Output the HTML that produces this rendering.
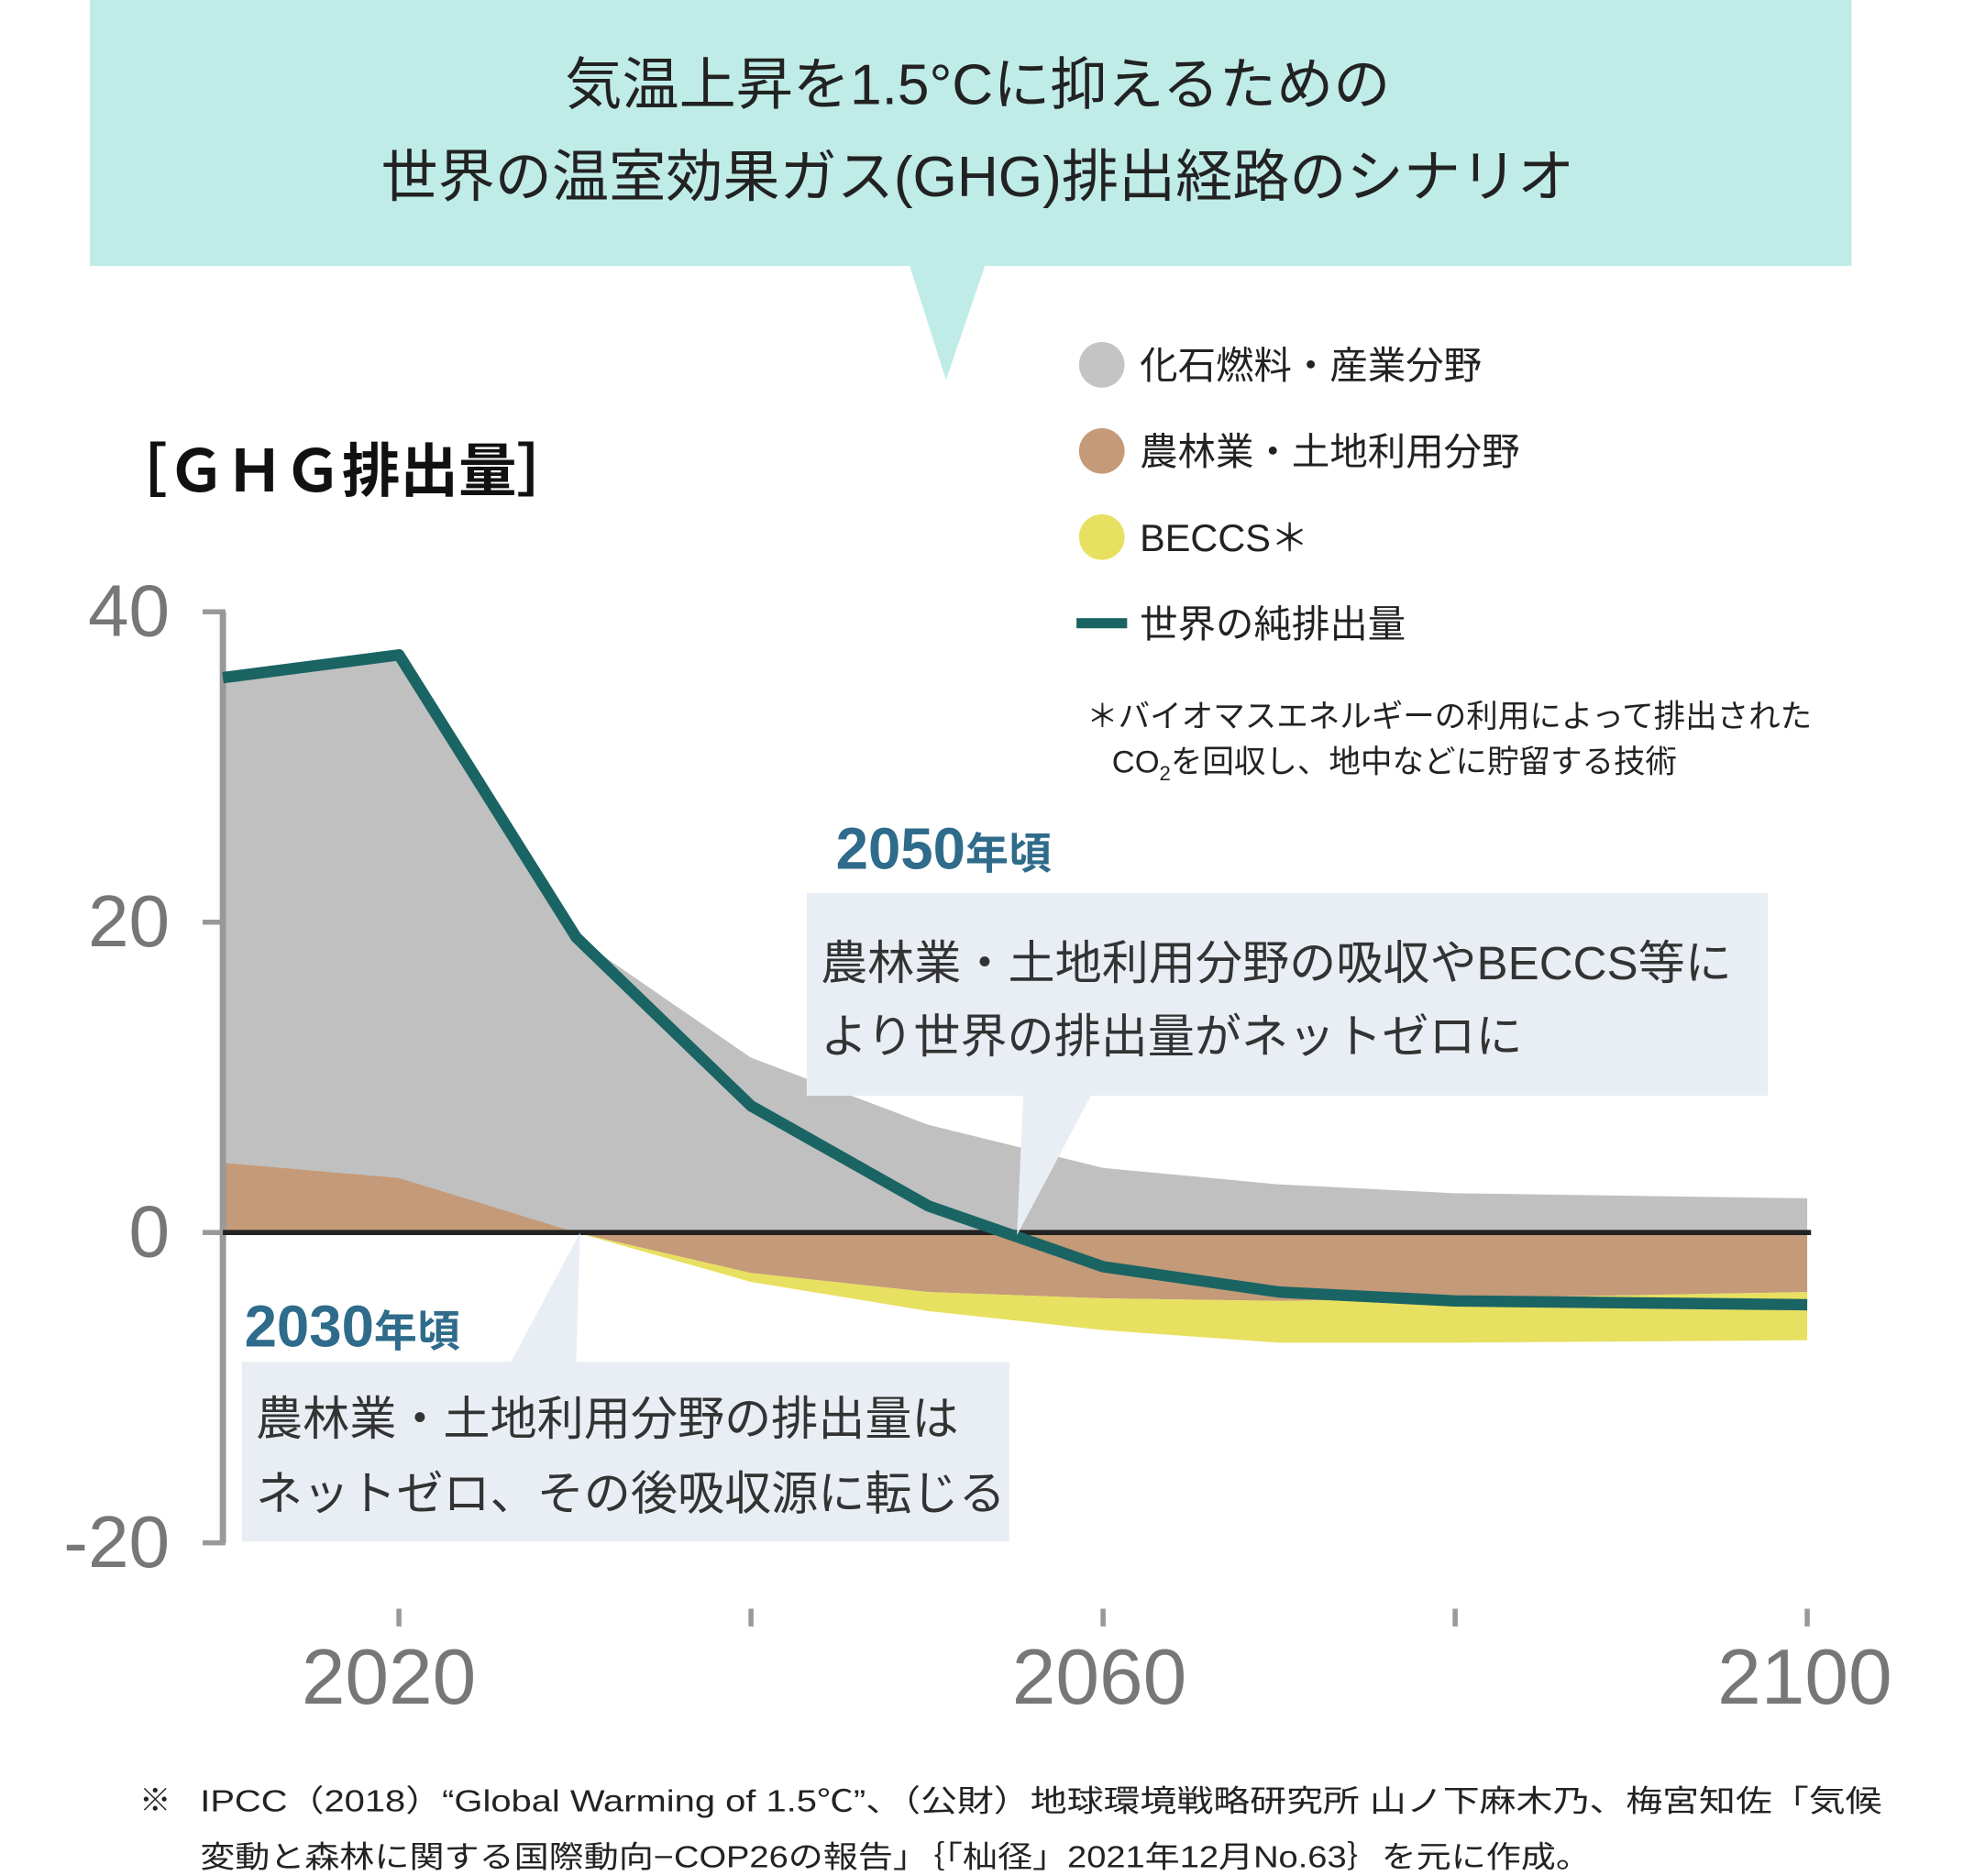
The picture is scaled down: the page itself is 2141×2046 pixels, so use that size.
<!DOCTYPE html>
<html><head><meta charset="utf-8"><style>
html,body{margin:0;padding:0;background:#fff;}
svg{display:block;}
text{font-family:"Liberation Sans","Noto Sans CJK JP",sans-serif;}
</style></head><body>
<svg width="2141" height="2046" viewBox="0 0 1550 1481" preserveAspectRatio="none" xmlns="http://www.w3.org/2000/svg">
<rect x="0" y="0" width="1550" height="1481" fill="#fff"/>
<!-- banner -->
<rect x="71" y="0" width="1391" height="210" fill="#c0ece8"/>
<polygon points="718,209 778,209 747,300" fill="#c0ece8"/>
<text x="772" y="82" font-size="45" text-anchor="middle" fill="#222">気温上昇を1.5°Cに抑えるための</text>
<text x="772" y="155" font-size="45" text-anchor="middle" fill="#222">世界の温室効果ガス(GHG)排出経路のシナリオ</text>
<!-- heading -->
<text x="86" y="388" font-size="46" font-weight="bold" fill="#111">［ＧＨＧ排出量］</text>
<!-- legend -->
<circle cx="870" cy="288" r="18" fill="#c4c4c4"/>
<circle cx="870" cy="356" r="18" fill="#c49a78"/>
<circle cx="870" cy="424" r="18" fill="#e8e060"/>
<rect x="850" y="488" width="40" height="8" fill="#1a6464"/>
<text x="900" y="299" font-size="30" fill="#222">化石燃料・産業分野</text>
<text x="900" y="367" font-size="30" fill="#222">農林業・土地利用分野</text>
<text x="900" y="435" font-size="30" fill="#222">BECCS＊</text>
<text x="900" y="503" font-size="30" fill="#222">世界の純排出量</text>
<text x="858" y="574" font-size="25" fill="#222">＊バイオマスエネルギーの利用によって排出された</text>
<text x="878" y="610" font-size="25" fill="#222">CO<tspan font-size="16" dy="6">2</tspan><tspan dy="-6">を回収し、地中などに貯留する技術</tspan></text>
<!-- areas -->
<polygon points="176,535 315,517 455,740 593,835 733,888 871,922 1010,935 1149,942 1427,946 1427,973 176,973" fill="#c0c0c0"/>
<polygon points="176,918 315,930 455,973 176,973" fill="#c49a78"/>
<polygon points="455,973 1427,973 1427,1020 1149,1025 1010,1027 871,1025 733,1020 593,1005" fill="#c49a78"/>
<polygon points="455,973 593,1005 733,1020 871,1025 1010,1027 1149,1025 1427,1020 1427,1058 1149,1060 1010,1060 871,1050 733,1035 593,1012" fill="#e8e060"/>
<!-- axes -->
<line x1="176" y1="483" x2="176" y2="1218" stroke="#999" stroke-width="5"/>
<g stroke="#999" stroke-width="4">
<line x1="160" y1="483" x2="178" y2="483"/><line x1="160" y1="728" x2="178" y2="728"/>
<line x1="160" y1="973" x2="178" y2="973"/><line x1="160" y1="1218" x2="178" y2="1218"/>
<line x1="315" y1="1270" x2="315" y2="1284"/><line x1="593" y1="1270" x2="593" y2="1284"/>
<line x1="871" y1="1270" x2="871" y2="1284"/><line x1="1149" y1="1270" x2="1149" y2="1284"/>
<line x1="1427" y1="1270" x2="1427" y2="1284"/>
</g>
<g font-size="58" fill="#777" text-anchor="end">
<text x="134" y="502">40</text><text x="134" y="747">20</text>
<text x="134" y="992">0</text><text x="134" y="1237">-20</text>
</g>
<g font-size="62" fill="#777" text-anchor="middle">
<text x="307" y="1345">2020</text><text x="868" y="1345">2060</text><text x="1425" y="1345">2100</text>
</g>
<line x1="176" y1="973" x2="1430" y2="973" stroke="#222" stroke-width="4"/>
<polyline points="176,535 315,517 455,740 593,873 733,952 871,1000 1010,1020 1149,1027 1427,1030" fill="none" stroke="#1a6464" stroke-width="9" stroke-linejoin="round"/>
<!-- callout 2050 -->
<rect x="637" y="705" width="759" height="160" fill="#e9eef5"/>
<polygon points="808,864 862,864 803,975" fill="#e9eef5"/>
<text x="660" y="686" font-weight="bold" fill="#2f6b8a"><tspan font-size="46">2050</tspan><tspan font-size="34">年頃</tspan></text>
<text x="648" y="773" font-size="37" fill="#333">農林業・土地利用分野の吸収やBECCS等に</text>
<text x="648" y="831" font-size="37" fill="#333">より世界の排出量がネットゼロに</text>
<!-- callout 2030 -->
<rect x="191" y="1075" width="606" height="142" fill="#e9eef5"/>
<polygon points="403,1076 455,1076 458,973" fill="#e9eef5"/>
<text x="193" y="1063" font-weight="bold" fill="#2f6b8a"><tspan font-size="46">2030</tspan><tspan font-size="34">年頃</tspan></text>
<text x="202" y="1133" font-size="37" fill="#333">農林業・土地利用分野の排出量は</text>
<text x="202" y="1192" font-size="37" fill="#333">ネットゼロ、その後吸収源に転じる</text>
<!-- footnote -->
<text x="110" y="1430" font-size="25" fill="#222">※</text>
<text x="158" y="1430" font-size="24" fill="#222" textLength="1328" lengthAdjust="spacingAndGlyphs">IPCC（2018）“Global Warming  of 1.5℃”、（公財）地球環境戦略研究所  山ノ下麻木乃、梅宮知佐「気候</text>
<text x="158" y="1474" font-size="24" fill="#222" textLength="1098" lengthAdjust="spacingAndGlyphs">変動と森林に関する国際動向−COP26の報告」｛「杣径」2021年12月No.63｝を元に作成。</text>
</svg>
</body></html>
